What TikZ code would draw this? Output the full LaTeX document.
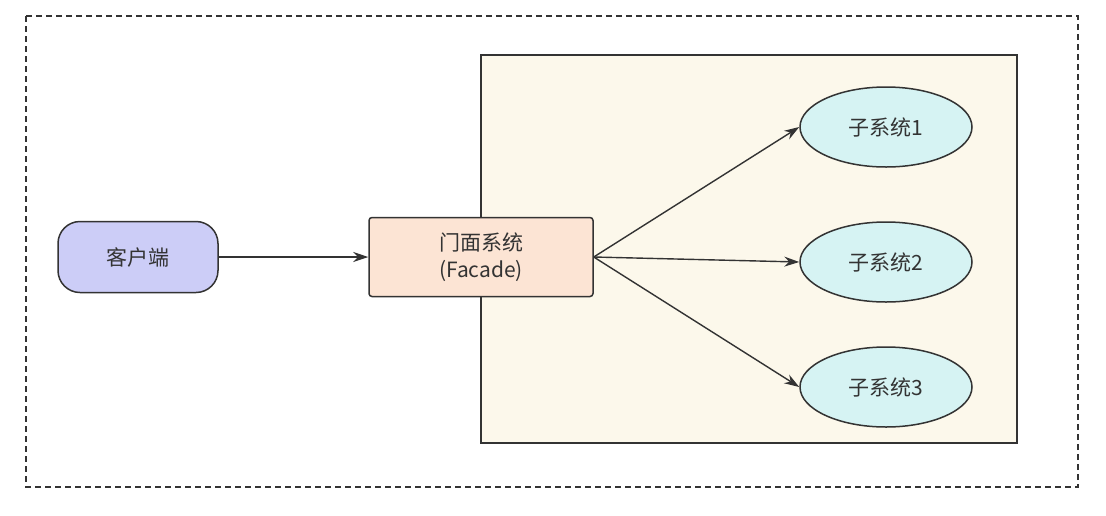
\documentclass[tikz,border=0pt]{standalone}
\usepackage{fontspec}
\setmainfont{Noto Sans CJK SC}
\usetikzlibrary{shapes.geometric,arrows.meta}
\definecolor{cli}{HTML}{CCCDF7}
\definecolor{fac}{HTML}{FCE4D4}
\definecolor{sub}{HTML}{D6F3F3}
\definecolor{pan}{HTML}{FCF8EB}
\definecolor{ln}{HTML}{333333}
\tikzset{
  x=1pt,y=-1pt,
  every node/.style={font=\fontsize{21}{27}\selectfont, text=ln},
  box/.style={draw=ln, line width=1.5pt, align=center},
  sub/.style={ellipse, draw=ln, line width=1.5pt, fill=sub, minimum width=172pt, minimum height=80pt},
  arr/.style={-{Stealth[length=15pt,width=10pt]}, draw=ln, line width=1.4pt}
}
\begin{document}
\begin{tikzpicture}
\useasboundingbox (0,0) rectangle (1106,515);
\draw[ln, line width=1.4pt, dash pattern=on 6pt off 4pt] (26,16) rectangle (1078,487);
\draw[ln, line width=1.5pt, fill=pan] (481,55) rectangle (1017,443);
\node[box, fill=cli, rounded corners=22pt, minimum width=160pt, minimum height=71pt] (c) at (138,257) {客户端};
\node[box, fill=fac, rounded corners=3pt, minimum width=224pt, minimum height=79pt] (f) at (481,257) {门面系统\\(Facade)};
\node[sub] (s1) at (886,127) {子系统1};
\node[sub] (s2) at (886,262) {子系统2};
\node[sub] (s3) at (886,387) {子系统3};
\draw[arr] (c) -- (f);
\draw[arr] (f.east) -- (s1.west);
\draw[arr] (f.east) -- (s2.west);
\draw[arr] (f.east) -- (s3.west);
\end{tikzpicture}
\end{document}
